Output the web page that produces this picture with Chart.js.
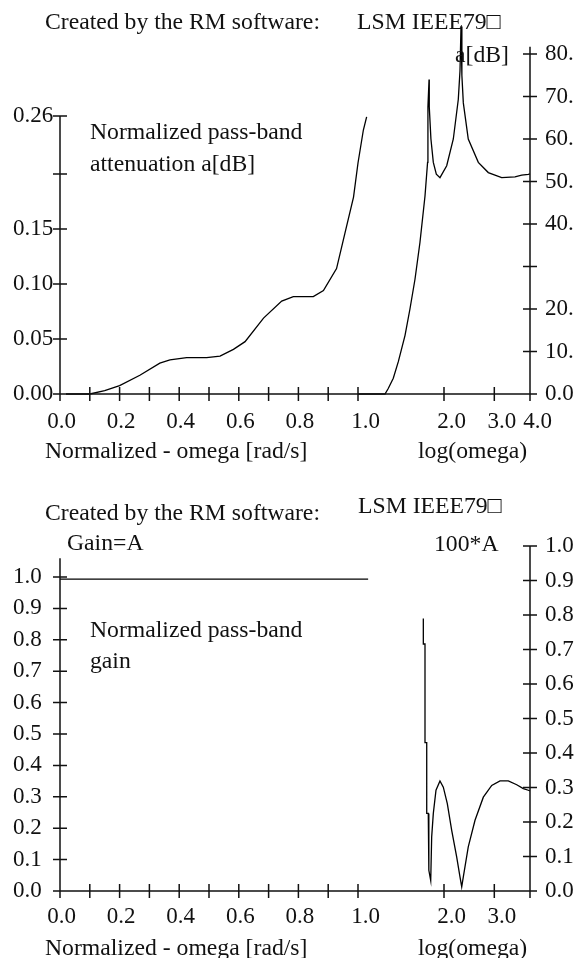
<!DOCTYPE html>
<html>
<head>
<meta charset="utf-8">
<script src="https://cdn.jsdelivr.net/npm/chart.js@4.4.1/dist/chart.umd.min.js"></script>
<style>
  html, body { margin: 0; padding: 0; background: #fff; }
  body { width: 577px; height: 958px; position: relative; overflow: hidden;
         font-family: 'Liberation Serif', 'Times New Roman', serif; font-size: 23.7px; color: #111; }
  .panel { position: absolute; left: 0; width: 577px; }
  #top { top: 0; height: 470px; }
  #bottom { top: 470px; height: 488px; }
  canvas { position: absolute; left: 0; top: 0; }
  .lbl { position: absolute; white-space: nowrap; line-height: 23px; }
</style>
</head>
<body>
<div class="panel" id="top">
  <canvas id="atten" width="577" height="470"></canvas>
  <div class="lbl" style="left:45px; top:10px">Created by the RM software:</div>
  <div class="lbl" style="left:357px; top:10px">LSM IEEE79&#x25A1;</div>
  <div class="lbl" style="left:455px; top:43px">a[dB]</div>
  <div class="lbl" style="left:90px; top:120px">Normalized pass-band</div>
  <div class="lbl" style="left:90px; top:152px">attenuation a[dB]</div>
  <div class="lbl" style="left:45px; top:439px">Normalized - omega [rad/s]</div>
  <div class="lbl" style="left:418px; top:439px">log(omega)</div>
</div>
<div class="panel" id="bottom">
  <canvas id="gain" width="577" height="488"></canvas>
  <div class="lbl" style="left:45px; top:31px">Created by the RM software:</div>
  <div class="lbl" style="left:358px; top:24px">LSM IEEE79&#x25A1;</div>
  <div class="lbl" style="left:67px; top:61px">Gain=A</div>
  <div class="lbl" style="left:434px; top:62px">100*A</div>
  <div class="lbl" style="left:90px; top:148px">Normalized pass-band</div>
  <div class="lbl" style="left:90px; top:179px">gain</div>
  <div class="lbl" style="left:45px; top:466px">Normalized - omega [rad/s]</div>
  <div class="lbl" style="left:418px; top:466px">log(omega)</div>
</div>
<script>
// x axis: linear part 0..1, then log part 1..4 (two scales stacked side by side)
const X_LIN_RANGE = [0, 1];
const X_LOG_RANGE = [1, 4];
const X_LIN_TICKS = [0, 0.1, 0.2, 0.3, 0.4, 0.5, 0.6, 0.7, 0.8, 0.9, 1.0];
const X_LIN_LABELS = ['0.0', '', '0.2', '', '0.4', '', '0.6', '', '0.8', '', ''];
const X_LOG_TICKS = [1, 2, 3, 4];
const TOP_LOG_LABELS = ['1.0', '2.0', '3.0', '4.0'];
const BOT_LOG_LABELS = ['1.0', '2.0', '3.0', ''];

// upper plot: pass-band attenuation (left axis) and stop-band attenuation in dB (right axis)
const TOP_PASS_W = [0.02, 0.1, 0.15, 0.2, 0.268, 0.335, 0.369, 0.425, 0.492, 0.537, 0.582, 0.621, 0.683, 0.744, 0.783, 0.85, 0.884, 0.928, 0.956, 0.985, 1.0, 1.018, 1.029];
const TOP_PASS_A = [0, 0, 0.003, 0.0076, 0.017, 0.028, 0.031, 0.033, 0.033, 0.0345, 0.0406, 0.0476, 0.069, 0.0845, 0.0885, 0.0885, 0.094, 0.114, 0.146, 0.179, 0.21, 0.24, 0.252];
const TOP_STOP_W = [1.0, 1.243, 1.276, 1.329, 1.384, 1.461, 1.52, 1.583, 1.648, 1.716, 1.752, 1.757, 1.773, 1.776, 1.8, 1.835, 1.88, 1.936, 2.044, 2.156, 2.244, 2.275, 2.294, 2.31, 2.337, 2.432, 2.637, 2.858, 3.184, 3.544, 3.741, 3.945, 4.0];
const TOP_STOP_DB = [0, 0, 1.3, 3.7, 7.6, 13.8, 20, 27, 35.7, 46.6, 54.5, 67.6, 74, 67.6, 60, 54.5, 51.7, 50.9, 53.7, 60, 69.3, 76, 86.5, 75, 68.5, 60, 54.5, 52.1, 50.9, 51.1, 51.5, 51.7, 51.8];
const TOP_L_TICKS = [0, 0.05, 0.1, 0.15, 0.2, 0.2527];
const TOP_L_LABELS = ['0.00', '0.05', '0.10', '0.15', '', '0.26'];
const TOP_R_TICKS = [0, 10, 20, 30, 40, 50, 60, 70, 80];
const TOP_R_LABELS = ['0.0', '10.', '20.', '', '40.', '50.', '60.', '70.', '80.'];

// lower plot: pass-band gain (left axis) and 100*A in the stop-band (right axis)
const BOT_PASS_W = [0, 1.034];
const BOT_PASS_G = [0.993, 0.993];
const BOT_STOP_W = [1.693, 1.693, 1.716, 1.716, 1.74, 1.74, 1.762, 1.77, 1.797, 1.811, 1.835, 1.875, 1.936, 1.989, 2.054, 2.128, 2.215, 2.275, 2.307, 2.337, 2.432, 2.568, 2.746, 2.938, 3.141, 3.358, 3.594, 3.79, 3.945, 4.0];
const BOT_STOP_G = [0.79, 0.716, 0.716, 0.43, 0.43, 0.225, 0.225, 0.06, 0.03, 0.157, 0.225, 0.292, 0.319, 0.301, 0.253, 0.176, 0.099, 0.041, 0.012, 0.041, 0.128, 0.205, 0.272, 0.306, 0.319, 0.319, 0.308, 0.297, 0.292, 0.29];
const BOT_TICKS = [0, 0.1, 0.2, 0.3, 0.4, 0.5, 0.6, 0.7, 0.8, 0.9, 1.0];
const BOT_LABELS = ['0.0', '0.1', '0.2', '0.3', '0.4', '0.5', '0.6', '0.7', '0.8', '0.9', '1.0'];

const FONT = { family: "'Liberation Serif', 'Times New Roman', serif", size: 23 };
const INK = '#111';
const TICK = 7;

const zip = (xs, ys) => xs.map((x, i) => ({ x, y: ys[i] }));
const setTicks = values => s => { s.ticks = values.map(v => ({ value: v })); };
const labelsOf = labels => (v, i) => labels[i];
// range set after the data limits, so points a bit past 1.0 are still drawn (as the plotter did)
const setRange = r => s => { s.min = r[0]; s.max = r[1]; };

// axis lines with ticks crossing both sides, like the original plotter
const axisLines = {
    id: 'axisLines',
    afterDraw(chart, args, opts) {
        const { ctx, chartArea: a } = chart;
        ctx.save();
        ctx.strokeStyle = INK;
        ctx.lineWidth = 1.5;
        ctx.beginPath();
        ctx.moveTo(a.left, a.bottom);
        ctx.lineTo(a.right, a.bottom);
        ['x', 'xl'].forEach(id => {
            const s = chart.scales[id];
            s.ticks.forEach(t => {
                const px = s.getPixelForValue(t.value);
                ctx.moveTo(px, a.bottom - TICK);
                ctx.lineTo(px, a.bottom + TICK);
            });
        });
        ['y', 'y2'].forEach(id => {
            const s = chart.scales[id];
            const px = id === 'y' ? a.left : a.right;
            ctx.moveTo(px, s.getPixelForValue(0));
            ctx.lineTo(px, s.getPixelForValue(opts.tops[id]));
            s.ticks.forEach(t => {
                const py = s.getPixelForValue(t.value);
                ctx.moveTo(px - TICK, py);
                ctx.lineTo(px + TICK, py);
            });
        });
        ctx.stroke();
        ctx.restore();
    }
};

function buildChart(id, cfg) {
    const line = { borderColor: '#000', borderWidth: 1.3, pointRadius: 0, tension: 0, fill: false, clip: false };
    const tickFont = { font: FONT, color: INK, autoSkip: false, maxRotation: 0 };
    const noGrid = { display: false, drawTicks: false };
    return new Chart(document.getElementById(id), {
        type: 'line',
        data: {
            datasets: [
                { data: zip(cfg.passW, cfg.passV), xAxisID: 'x', yAxisID: 'y', ...line },
                { data: zip(cfg.stopW, cfg.stopV), xAxisID: 'xl', yAxisID: 'y2', ...line }
            ]
        },
        options: {
            responsive: false,
            animation: false,
            events: [],
            layout: { padding: { left: 13, top: cfg.top, right: 0, bottom: 0 } },
            plugins: {
                legend: { display: false },
                tooltip: { enabled: false },
                axisLines: { tops: cfg.tops }
            },
            scales: {
                x: {
                    type: 'linear', position: 'bottom', stack: 'omega', stackWeight: 298, bounds: 'data',
                    afterDataLimits: setRange(X_LIN_RANGE),
                    grid: noGrid, border: { display: false },
                    afterBuildTicks: setTicks(X_LIN_TICKS),
                    ticks: { ...tickFont, callback: labelsOf(X_LIN_LABELS), padding: cfg.xPad, labelOffset: 1.5 },
                    afterFit: s => { s.height = cfg.xHeight; }
                },
                xl: {
                    type: 'logarithmic', position: 'bottom', stack: 'omega', stackWeight: 172, bounds: 'data',
                    afterDataLimits: setRange(X_LOG_RANGE),
                    grid: noGrid, border: { display: false },
                    afterBuildTicks: setTicks(X_LOG_TICKS),
                    ticks: { ...tickFont, callback: labelsOf(cfg.logLabels), padding: cfg.xPad, labelOffset: 7.5 },
                    afterFit: s => { s.height = cfg.xHeight; }
                },
                y: {
                    position: 'left', min: 0, max: cfg.yMax,
                    grid: noGrid, border: { display: false },
                    afterBuildTicks: setTicks(cfg.yTicks),
                    ticks: { ...tickFont, callback: labelsOf(cfg.yLabels), crossAlign: 'far', padding: 0 },
                    afterFit: s => { s.width = 47; }
                },
                y2: {
                    position: 'right', min: 0, max: cfg.y2Max,
                    grid: noGrid, border: { display: false },
                    afterBuildTicks: setTicks(cfg.y2Ticks),
                    ticks: { ...tickFont, callback: labelsOf(cfg.y2Labels), padding: 15 },
                    afterFit: s => { s.width = 47; }
                }
            }
        },
        plugins: [axisLines]
    });
}

buildChart('atten', {
    passW: TOP_PASS_W, passV: TOP_PASS_A, stopW: TOP_STOP_W, stopV: TOP_STOP_DB,
    top: 54, xHeight: 76, xPad: 14,
    yMax: 0.3091, yTicks: TOP_L_TICKS, yLabels: TOP_L_LABELS,
    y2Max: 80, y2Ticks: TOP_R_TICKS, y2Labels: TOP_R_LABELS,
    logLabels: TOP_LOG_LABELS,
    tops: { y: 0.2527, y2: 81.7 }
});

buildChart('gain', {
    passW: BOT_PASS_W, passV: BOT_PASS_G, stopW: BOT_STOP_W, stopV: BOT_STOP_G,
    top: 76, xHeight: 67, xPad: 12,
    yMax: 1.0987, yTicks: BOT_TICKS, yLabels: BOT_LABELS,
    y2Max: 1.0, y2Ticks: BOT_TICKS, y2Labels: BOT_LABELS,
    logLabels: BOT_LOG_LABELS,
    tops: { y: 1.06, y2: 1.0 }
});
</script>
</body>
</html>
